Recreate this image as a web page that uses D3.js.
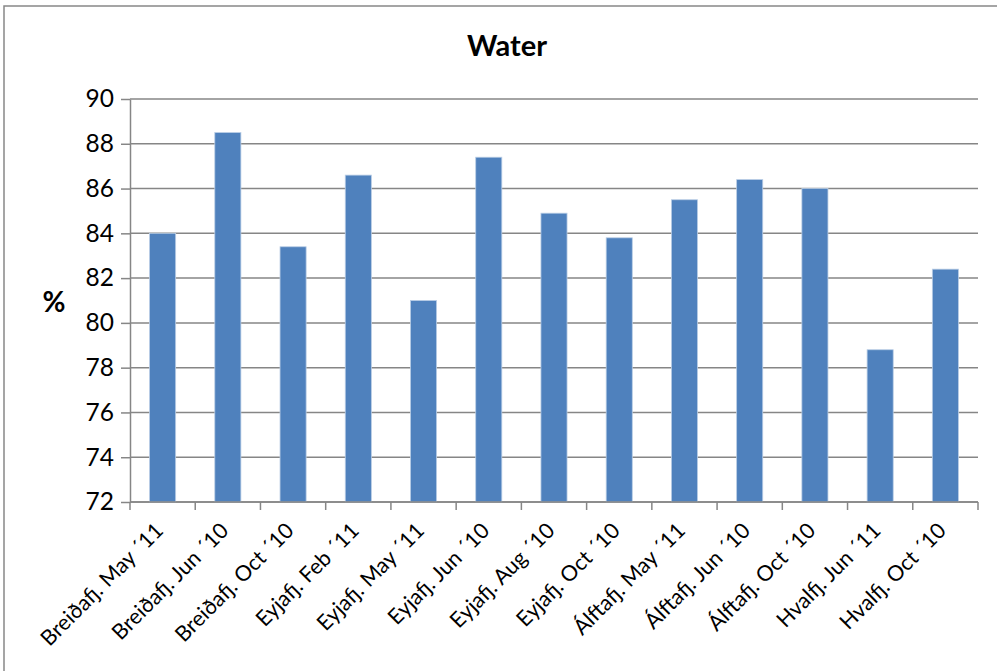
<!DOCTYPE html>
<html>
<head>
<meta charset="utf-8">
<script src="https://cdn.jsdelivr.net/npm/d3@7"></script>
<style>
  html, body { margin: 0; padding: 0; background: #fff; }
  svg { display: block; }
</style>
</head>
<body>
<script>
// Water content per sampling site and date
const categories = [
  "Breiðafj. May ´11", "Breiðafj. Jun ´10", "Breiðafj. Oct ´10",
  "Eyjafj. Feb ´11", "Eyjafj. May ´11", "Eyjafj. Jun ´10",
  "Eyjafj. Aug ´10", "Eyjafj. Oct ´10", "Álftafj. May ´11",
  "Álftafj. Jun ´10", "Álftafj. Oct ´10", "Hvalfj. Jun ´11",
  "Hvalfj. Oct ´10"
];
const water = [84.0, 88.5, 83.4, 86.6, 81.0, 87.4, 84.9, 83.8, 85.5, 86.4, 86.0, 78.8, 82.4];
const yTicks = [72, 74, 76, 78, 80, 82, 84, 86, 88, 90];
const chartTitle = "Water";
const yTitle = "%";

const W = 997, H = 671;
const m = { left: 130, right: 19, top: 99, bottom: 169 };
const font = "Lato, 'Open Sans', sans-serif";

const svg = d3.select("body").append("svg")
  .attr("width", W).attr("height", H);

// outer chart frame
svg.append("rect")
  .attr("x", 4).attr("y", 6)
  .attr("width", W + 10).attr("height", H + 10)
  .attr("fill", "#fff").attr("stroke", "#888").attr("stroke-width", 1.5);

const x = d3.scaleBand()
  .domain(categories)
  .range([m.left, W - m.right])
  .paddingInner(0.6).paddingOuter(0.3);

const y = d3.scaleLinear()
  .domain([72, 90])
  .range([H - m.bottom, m.top]);

// horizontal gridlines
svg.append("g")
  .selectAll("line")
  .data(yTicks)
  .join("line")
  .attr("x1", m.left).attr("x2", W - m.right)
  .attr("y1", d => y(d)).attr("y2", d => y(d))
  .attr("stroke", "#868686").attr("stroke-width", 1.5);

// bars
svg.append("g")
  .selectAll("rect")
  .data(water)
  .join("rect")
  .attr("x", (d, i) => x(categories[i]))
  .attr("y", d => y(d))
  .attr("width", x.bandwidth())
  .attr("height", d => y(72) - y(d))
  .attr("fill", "#4F81BD")
  .attr("stroke", "#B9CDE5").attr("stroke-width", 0.8);

// y axis
const yAxis = svg.append("g")
  .attr("transform", `translate(${m.left},0)`)
  .call(d3.axisLeft(y).tickValues(yTicks).tickSize(9).tickPadding(7).tickSizeOuter(0));
yAxis.select(".domain").attr("stroke", "#868686").attr("stroke-width", 1.5);
yAxis.selectAll(".tick line").attr("stroke", "#868686").attr("stroke-width", 1.5);
yAxis.selectAll(".tick text")
  .attr("font-family", font).attr("font-size", 24.5).attr("fill", "#000");

// x axis: boundary ticks between categories
const step = x.step();
const bounds = d3.range(categories.length + 1).map(i => m.left + i * step);
const xg = svg.append("g");
xg.append("line")
  .attr("x1", m.left).attr("x2", W - m.right)
  .attr("y1", y(72)).attr("y2", y(72))
  .attr("stroke", "#868686").attr("stroke-width", 1.5);
xg.selectAll("line.tk")
  .data(bounds)
  .join("line").attr("class", "tk")
  .attr("x1", d => d).attr("x2", d => d)
  .attr("y1", y(72)).attr("y2", y(72) + 8)
  .attr("stroke", "#868686").attr("stroke-width", 1.5);

// rotated category labels
xg.selectAll("text")
  .data(categories)
  .join("text")
  .attr("transform", d => `translate(${x(d) + x.bandwidth() / 2 + 2},${y(72) + 30}) rotate(-45)`)
  .attr("text-anchor", "end")
  .attr("font-family", font).attr("font-size", 21.5).attr("fill", "#000")
  .text(d => d);

// titles
svg.append("text")
  .attr("x", 507).attr("y", 56)
  .attr("text-anchor", "middle")
  .attr("font-family", font).attr("font-weight", "bold").attr("font-size", 29)
  .text(chartTitle);

svg.append("text")
  .attr("x", 54).attr("y", 312)
  .attr("text-anchor", "middle")
  .attr("font-family", font).attr("font-weight", "bold").attr("font-size", 28)
  .text(yTitle);
</script>
</body>
</html>
